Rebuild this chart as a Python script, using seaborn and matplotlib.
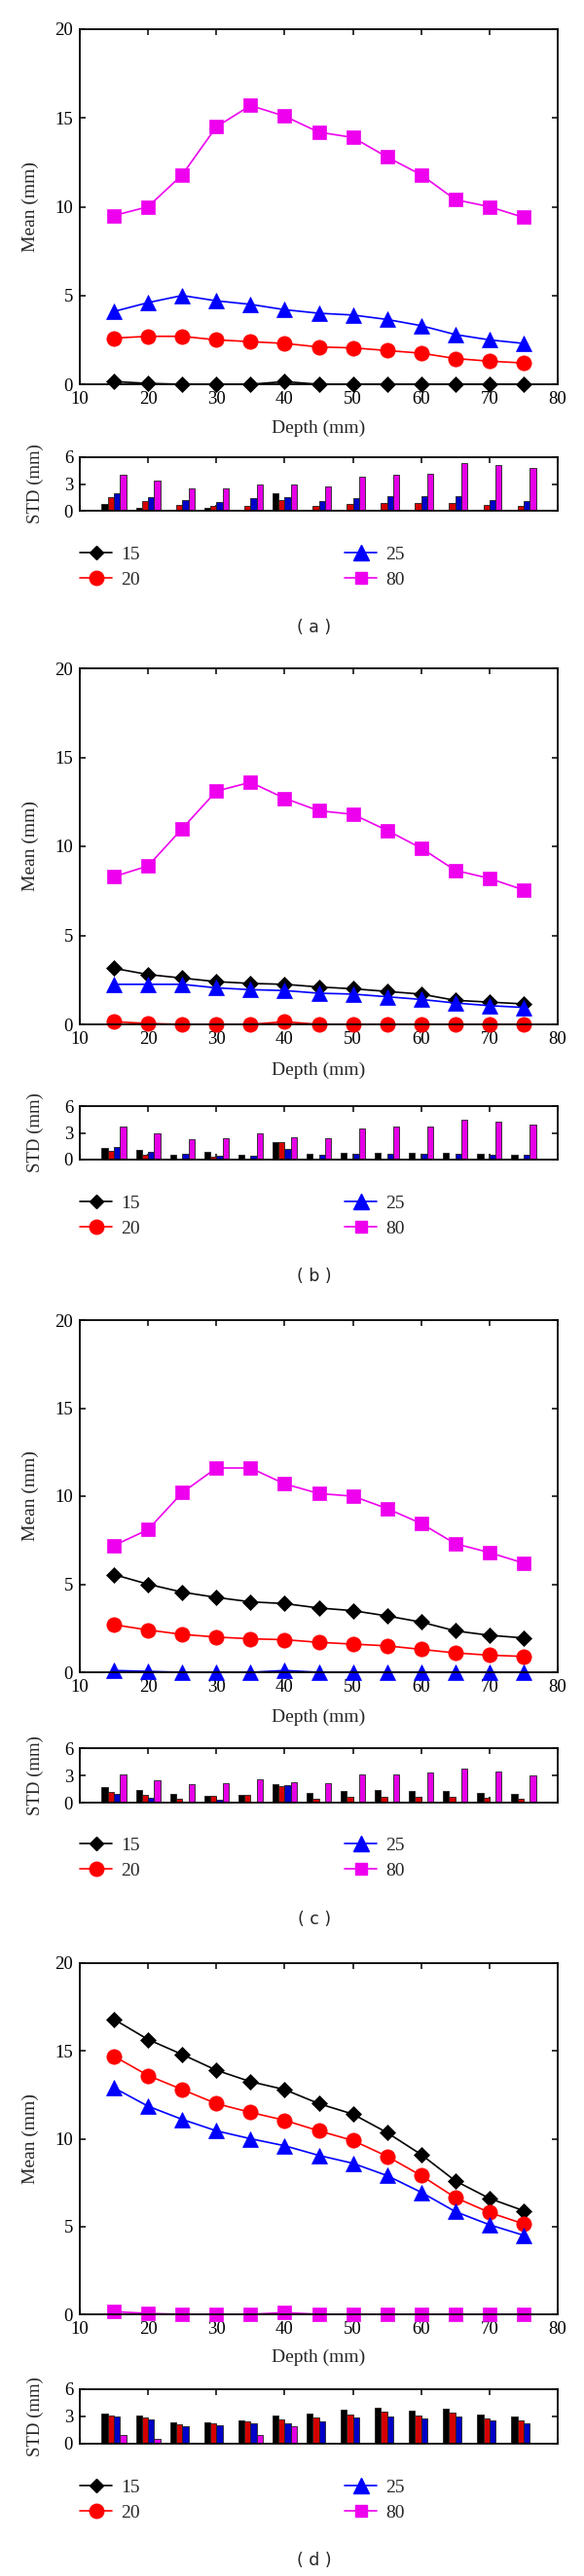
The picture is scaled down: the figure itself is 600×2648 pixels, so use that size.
import numpy as np
import pandas as pd
import matplotlib
matplotlib.use("Agg")
import matplotlib.pyplot as plt
from matplotlib.lines import Line2D
import seaborn as sns

# ---------------- data ----------------
depth = [15, 20, 25, 30, 35, 40, 45, 50, 55, 60, 65, 70, 75]
series_names = ["15", "20", "25", "80"]
panel_labels = ["( a )", "( b )", "( c )", "( d )"]

# panel (a)
mean_a_15 = [0.15, 0.05, 0.0, 0.0, 0.0, 0.15, 0.0, 0.0, 0.0, 0.0, 0.0, 0.0, 0.0]
mean_a_20 = [2.6, 2.7, 2.7, 2.5, 2.4, 2.3, 2.1, 2.05, 1.9, 1.75, 1.45, 1.3, 1.2]
mean_a_25 = [4.1, 4.6, 5.0, 4.7, 4.5, 4.2, 4.0, 3.9, 3.65, 3.3, 2.8, 2.5, 2.3]
mean_a_80 = [9.5, 10.0, 11.8, 14.5, 15.7, 15.1, 14.2, 13.9, 12.8, 11.8, 10.4, 10.0, 9.4]
std_a_15 = [0.8, 0.35, 0.15, 0.35, 0.05, 2.0, 0.0, 0.0, 0.0, 0.0, 0.0, 0.0, 0.0]
std_a_20 = [1.5, 1.1, 0.7, 0.55, 0.55, 1.25, 0.6, 0.8, 0.85, 0.85, 0.85, 0.7, 0.6]
std_a_25 = [2.0, 1.5, 1.15, 1.0, 1.4, 1.5, 1.1, 1.4, 1.6, 1.6, 1.6, 1.25, 1.1]
std_a_80 = [4.0, 3.4, 2.5, 2.5, 2.9, 3.0, 2.7, 3.85, 4.0, 4.2, 5.3, 5.15, 4.8]

# panel (b)
mean_b_15 = [3.15, 2.8, 2.6, 2.4, 2.3, 2.25, 2.1, 2.0, 1.85, 1.7, 1.35, 1.25, 1.15]
mean_b_20 = [0.15, 0.05, 0.0, 0.0, 0.0, 0.15, 0.0, 0.0, 0.0, 0.0, 0.0, 0.0, 0.0]
mean_b_25 = [2.25, 2.25, 2.25, 2.05, 1.95, 1.9, 1.75, 1.7, 1.55, 1.4, 1.2, 1.05, 0.95]
mean_b_80 = [8.3, 8.9, 11.0, 13.1, 13.6, 12.7, 12.0, 11.8, 10.9, 9.9, 8.65, 8.2, 7.55]
std_b_15 = [1.35, 1.05, 0.6, 0.85, 0.55, 1.95, 0.7, 0.75, 0.75, 0.75, 0.75, 0.7, 0.6]
std_b_20 = [1.0, 0.55, 0.0, 0.3, 0.0, 2.0, 0.0, 0.0, 0.0, 0.0, 0.0, 0.0, 0.0]
std_b_25 = [1.4, 0.9, 0.7, 0.45, 0.45, 1.25, 0.6, 0.65, 0.7, 0.7, 0.7, 0.6, 0.55]
std_b_80 = [3.7, 2.9, 2.3, 2.45, 2.9, 2.5, 2.45, 3.5, 3.7, 3.7, 4.5, 4.3, 3.9]

# panel (c)
mean_c_15 = [5.55, 5.0, 4.55, 4.25, 4.0, 3.9, 3.65, 3.5, 3.2, 2.85, 2.35, 2.1, 1.95]
mean_c_20 = [2.7, 2.4, 2.15, 2.0, 1.9, 1.85, 1.7, 1.6, 1.5, 1.3, 1.1, 0.97, 0.9]
mean_c_25 = [0.1, 0.05, 0.0, 0.0, 0.0, 0.1, 0.0, 0.0, 0.0, 0.0, 0.0, 0.0, 0.0]
mean_c_80 = [7.2, 8.1, 10.2, 11.6, 11.6, 10.7, 10.15, 10.0, 9.3, 8.45, 7.3, 6.8, 6.2]
std_c_15 = [1.75, 1.4, 1.0, 0.75, 0.85, 2.0, 1.1, 1.3, 1.35, 1.3, 1.3, 1.1, 1.0]
std_c_20 = [1.2, 0.85, 0.45, 0.72, 0.85, 1.8, 0.45, 0.6, 0.6, 0.6, 0.6, 0.5, 0.45]
std_c_25 = [0.95, 0.55, 0.1, 0.35, 0.0, 1.9, 0.0, 0.0, 0.0, 0.0, 0.0, 0.0, 0.0]
std_c_80 = [3.1, 2.5, 2.0, 2.15, 2.55, 2.2, 2.1, 3.15, 3.15, 3.3, 3.8, 3.45, 3.05]

# panel (d)
mean_d_15 = [16.8, 15.65, 14.8, 13.9, 13.25, 12.8, 12.0, 11.4, 10.35, 9.1, 7.6, 6.6, 5.9]
mean_d_20 = [14.7, 13.6, 12.8, 12.0, 11.5, 11.05, 10.45, 9.9, 9.0, 7.9, 6.65, 5.8, 5.15]
mean_d_25 = [12.9, 11.85, 11.1, 10.45, 10.0, 9.6, 9.05, 8.6, 7.9, 6.95, 5.85, 5.1, 4.5]
mean_d_80 = [0.15, 0.05, 0.0, 0.0, 0.0, 0.1, 0.0, 0.0, 0.0, 0.0, 0.0, 0.0, 0.0]
std_d_15 = [3.35, 3.15, 2.4, 2.4, 2.6, 3.1, 3.3, 3.8, 3.95, 3.6, 3.9, 3.25, 3.0]
std_d_20 = [3.15, 2.9, 2.15, 2.2, 2.45, 2.65, 2.85, 3.25, 3.5, 3.1, 3.4, 2.8, 2.6]
std_d_25 = [3.0, 2.65, 1.95, 2.0, 2.25, 2.25, 2.5, 2.9, 3.0, 2.8, 3.0, 2.55, 2.25]
std_d_80 = [0.95, 0.55, 0.1, 0.0, 0.95, 1.95, 0.0, 0.0, 0.0, 0.0, 0.0, 0.0, 0.0]

means = [
    [mean_a_15, mean_a_20, mean_a_25, mean_a_80],
    [mean_b_15, mean_b_20, mean_b_25, mean_b_80],
    [mean_c_15, mean_c_20, mean_c_25, mean_c_80],
    [mean_d_15, mean_d_20, mean_d_25, mean_d_80],
]
stds = [
    [std_a_15, std_a_20, std_a_25, std_a_80],
    [std_b_15, std_b_20, std_b_25, std_b_80],
    [std_c_15, std_c_20, std_c_25, std_c_80],
    [std_d_15, std_d_20, std_d_25, std_d_80],
]

# ---------------- style ----------------
sns.set_theme(style="ticks")
plt.rcParams["font.family"] = ["Liberation Serif", "DejaVu Serif"]
plt.rcParams["xtick.direction"] = "in"
plt.rcParams["ytick.direction"] = "in"

line_colors = ["#000000", "#ff0000", "#0000ff", "#ee00ee"]
bar_colors = ["#000000", "#d40000", "#0000c8", "#e600e6"]
markers = ["D", "o", "^", "s"]
msizes = [8, 11, 11.5, 9.5]

W, H = 600, 2648
fig = plt.figure(figsize=(W / 100, H / 100), dpi=100)
fig.patch.set_facecolor("white")

def add_ax(l, t, r, b):
    return fig.add_axes([l / W, 1 - b / H, (r - l) / W, (b - t) / H])

# layout in pixels: main top, main bottom, xlabel y, std top, std bottom, legend top, panel label y
layout = [
    (30, 395, 440, 470, 525, 561, 645),
    (687, 1053, 1100, 1137, 1192, 1228, 1312),
    (1357, 1719, 1765, 1797, 1853, 1888, 1973),
    (2018, 2379, 2423, 2456, 2512, 2548, 2632),
]
L, R = 82, 573
FS = 13.5

def style_axes(ax):
    for sp in ax.spines.values():
        sp.set_visible(True)
        sp.set_color("black")
        sp.set_linewidth(1.3)
    ax.set_facecolor("white")
    ax.tick_params(axis="both", which="both", direction="in", top=True, right=True,
                   length=4, width=1.1, colors="black", labelsize=FS, pad=5)
    ax.grid(False)

for p in range(4):
    mt, mb, xl_y, st, sb, lg_t, pl_y = layout[p]

    # ---- main mean plot ----
    ax = add_ax(L, mt, R, mb)
    for k in range(4):
        sns.lineplot(x=depth, y=means[p][k], ax=ax, color=line_colors[k],
                     marker=markers[k], markersize=msizes[k],
                     markeredgecolor=line_colors[k], markeredgewidth=0.5,
                     linewidth=1.2, clip_on=False, legend=False)
    ax.set_xlim(10, 80)
    ax.set_ylim(0, 20)
    ax.set_xticks(range(10, 81, 10))
    ax.set_yticks([0, 5, 10, 15, 20])
    style_axes(ax)
    ax.set_xlabel("Depth (mm)", fontsize=FS + 0.5)
    ax.xaxis.set_label_coords(0.5, -(xl_y - mb) / (mb - mt))
    ax.xaxis.label.set_va("center")
    ax.set_ylabel("Mean (mm)", fontsize=FS + 0.5)
    ax.yaxis.set_label_coords(-(L - 31) / (R - L), 0.5)
    ax.yaxis.label.set_va("center")

    # ---- std bar plot ----
    axs = add_ax(L, st, R, sb)
    rows = []
    for k in range(4):
        for d, v in zip(depth, stds[p][k]):
            rows.append({"depth": d, "series": series_names[k], "std": v})
    df = pd.DataFrame(rows)
    sns.barplot(data=df, x="depth", y="std", hue="series", hue_order=series_names,
                palette=bar_colors, native_scale=True, width=0.72, gap=0,
                saturation=1, errorbar=None, edgecolor="#222222", linewidth=0.6,
                legend=False, ax=axs)
    axs.set_xlim(10, 80)
    axs.set_ylim(0, 6)
    axs.set_xticks(range(10, 81, 10))
    axs.set_xticklabels([])
    axs.set_yticks([0, 3, 6])
    axs.set_yticklabels(["0", "3", "6"])
    style_axes(axs)
    axs.set_xlabel("")
    axs.set_ylabel("STD (mm)", fontsize=FS)
    axs.yaxis.set_label_coords(-(L - 36) / (R - L), 0.5)
    axs.yaxis.label.set_va("center")

    # ---- legend ----
    handles = [Line2D([0], [0], color=line_colors[k], marker=markers[k],
                      markersize=msizes[k] * 0.95, markeredgecolor=line_colors[k],
                      linewidth=1.2) for k in range(4)]
    fig.legend(handles, series_names, loc="upper left",
               bbox_to_anchor=(L / W, 1 - lg_t / H), ncol=2, frameon=False,
               fontsize=FS + 0.5, borderpad=0, borderaxespad=0,
               handlelength=1.7, handletextpad=0.45, columnspacing=10.85,
               labelspacing=0.46)

    # ---- panel label ----
    fig.text(323 / W, 1 - pl_y / H, panel_labels[p], ha="center", va="center",
             fontsize=12.5, family=["DejaVu Sans"])

fig.savefig("out.png", dpi=100, facecolor="white")
